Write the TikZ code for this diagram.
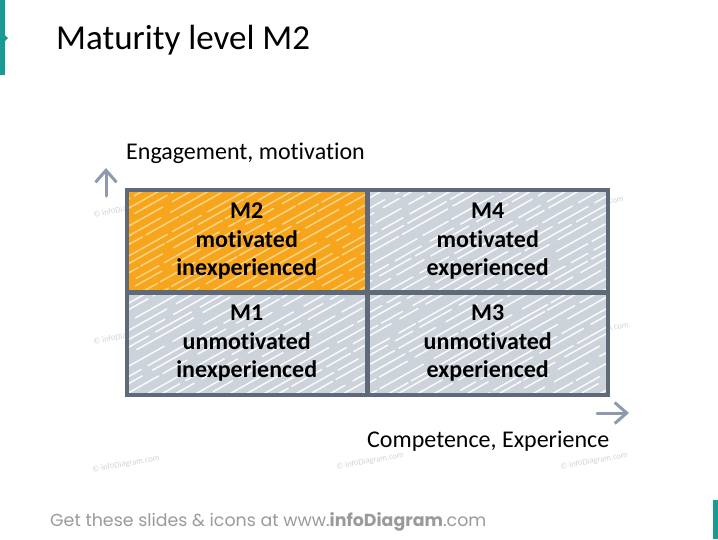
\documentclass[tikz,border=0pt]{standalone}
\usepackage{fontspec}
\setmainfont{Carlito}[Ligatures=NoCommon]
\newfontfamily\footfont{Poppins}
\usetikzlibrary{arrows.meta,backgrounds}
\definecolor{teal1}{HTML}{1A9A93}
\definecolor{orng}{HTML}{F8A51E}
\definecolor{cellgrey}{HTML}{CDD3DB}
\definecolor{edge}{HTML}{5E6A79}
\definecolor{arrowgrey}{HTML}{8E9AAB}
\definecolor{footgrey}{HTML}{9A9A9A}
\definecolor{wmgrey}{HTML}{D2D2D2}
\definecolor{paleorng}{HTML}{FCE3A6}
\tikzset{
  cell/.style={draw=edge, line width=3.5pt, minimum width=240pt, minimum height=103pt,
    anchor=north west, align=center, inner sep=0pt,
    font=\bfseries\fontsize{24}{28.5}\selectfont},
  axisarrow/.style={draw=arrowgrey, line width=3pt, line cap=round,
    -{Straight Barb[length=12pt,width=21pt,line width=3pt]}},
  axislabel/.style={anchor=west, inner sep=0pt, font=\fontsize{24}{26}\selectfont},
  wm/.style={text=wmgrey, rotate=10, inner sep=0pt, font=\fontsize{8.5}{9}\selectfont},
  hatch/.style={line width=1.5pt, line cap=round}
}
\newcommand{\hatchcell}[3]{%
  \begin{scope}
    \clip ([xshift=1pt,yshift=-1pt]#1.north west) rectangle ([xshift=-1pt,yshift=1pt]#1.south east);
    \foreach \k in {0,...,26}{
      \pgfmathsetmacro{\da}{25+random(0,45)}
      \pgfmathsetmacro{\db}{3+random(0,8)}
      \pgfmathsetmacro{\dc}{15+random(0,40)}
      \pgfmathsetmacro{\dd}{3+random(0,10)}
      \pgfmathsetmacro{\ph}{random(0,60)}
      \pgfmathsetmacro{\jx}{random(-4,4)}
      \draw[hatch, draw=#2, draw opacity=#3, dash pattern=on \da pt off \db pt on \dc pt off \dd pt, dash phase=\ph pt]
        ([xshift={-200pt+\k*16.5pt+\jx pt}]#1.south west) -- ++(200pt,112pt);
    }
  \end{scope}}
\begin{document}
\begin{tikzpicture}[x=1pt,y=-1pt]
\pgfmathsetseed{12}
\useasboundingbox (0,0) rectangle (718,539);
% side markers
\fill[teal1] (0,0) rectangle (5,75);
\fill[teal1] (0,30) -- (8,38) -- (0,46) -- cycle;
\fill[teal1] (713,500) rectangle (718,539);
% title
\node[anchor=west, inner sep=0pt, font=\fontsize{35}{40}\selectfont] (title) at (56,40) {Maturity level M2};
% cells
\node[cell] (m2) at (125,188) {M2\\motivated\\inexperienced};
\node[cell] (m4) at (366,188) {M4\\motivated\\experienced};
\node[cell] (m1) at (125,290) {M1\\unmotivated\\inexperienced};
\node[cell] (m3) at (366,290) {M3\\unmotivated\\experienced};
\begin{scope}[on background layer]
  % watermarks
  \node[wm] (w1) at (126,464) {© infoDiagram.com};
  \node[wm] (w2) at (370,461) {© infoDiagram.com};
  \node[wm] (w3) at (594,461) {© infoDiagram.com};
  \node[wm] (w4) at (127,209) {© infoDiagram.com};
  \node[wm] (w5) at (590,205) {© infoDiagram.com};
  \node[wm] (w6) at (127,336) {© infoDiagram.com};
  \node[wm] (w7) at (595,331) {© infoDiagram.com};
  \fill[orng] (m2.north west) rectangle (m2.south east);
  \fill[cellgrey] (m4.north west) rectangle (m4.south east);
  \fill[cellgrey] (m1.north west) rectangle (m1.south east);
  \fill[cellgrey] (m3.north west) rectangle (m3.south east);
  \hatchcell{m2}{paleorng}{0.75}
  \hatchcell{m4}{white}{0.9}
  \hatchcell{m1}{white}{0.9}
  \hatchcell{m3}{white}{0.9}
\end{scope}
% axes
\coordinate (upS) at (106,196);
\coordinate (upE) at (106,168);
\draw[axisarrow] (upS) -- (upE);
\coordinate (rtS) at (597,413);
\coordinate (rtE) at (629,413);
\draw[axisarrow] (rtS) -- (rtE);
\node[axislabel] (ylab) at (126,153) {Engagement, motivation};
\node[axislabel] (xlab) at (367,441) {Competence, Experience};
% footer
\node[anchor=west, inner sep=0pt, text=footgrey, font=\footfont\fontsize{17.4}{19}\selectfont] (foot) at (50,522)
  {Get these slides \& icons at www.\textbf{infoDiagram}.com};
\end{tikzpicture}
\end{document}
